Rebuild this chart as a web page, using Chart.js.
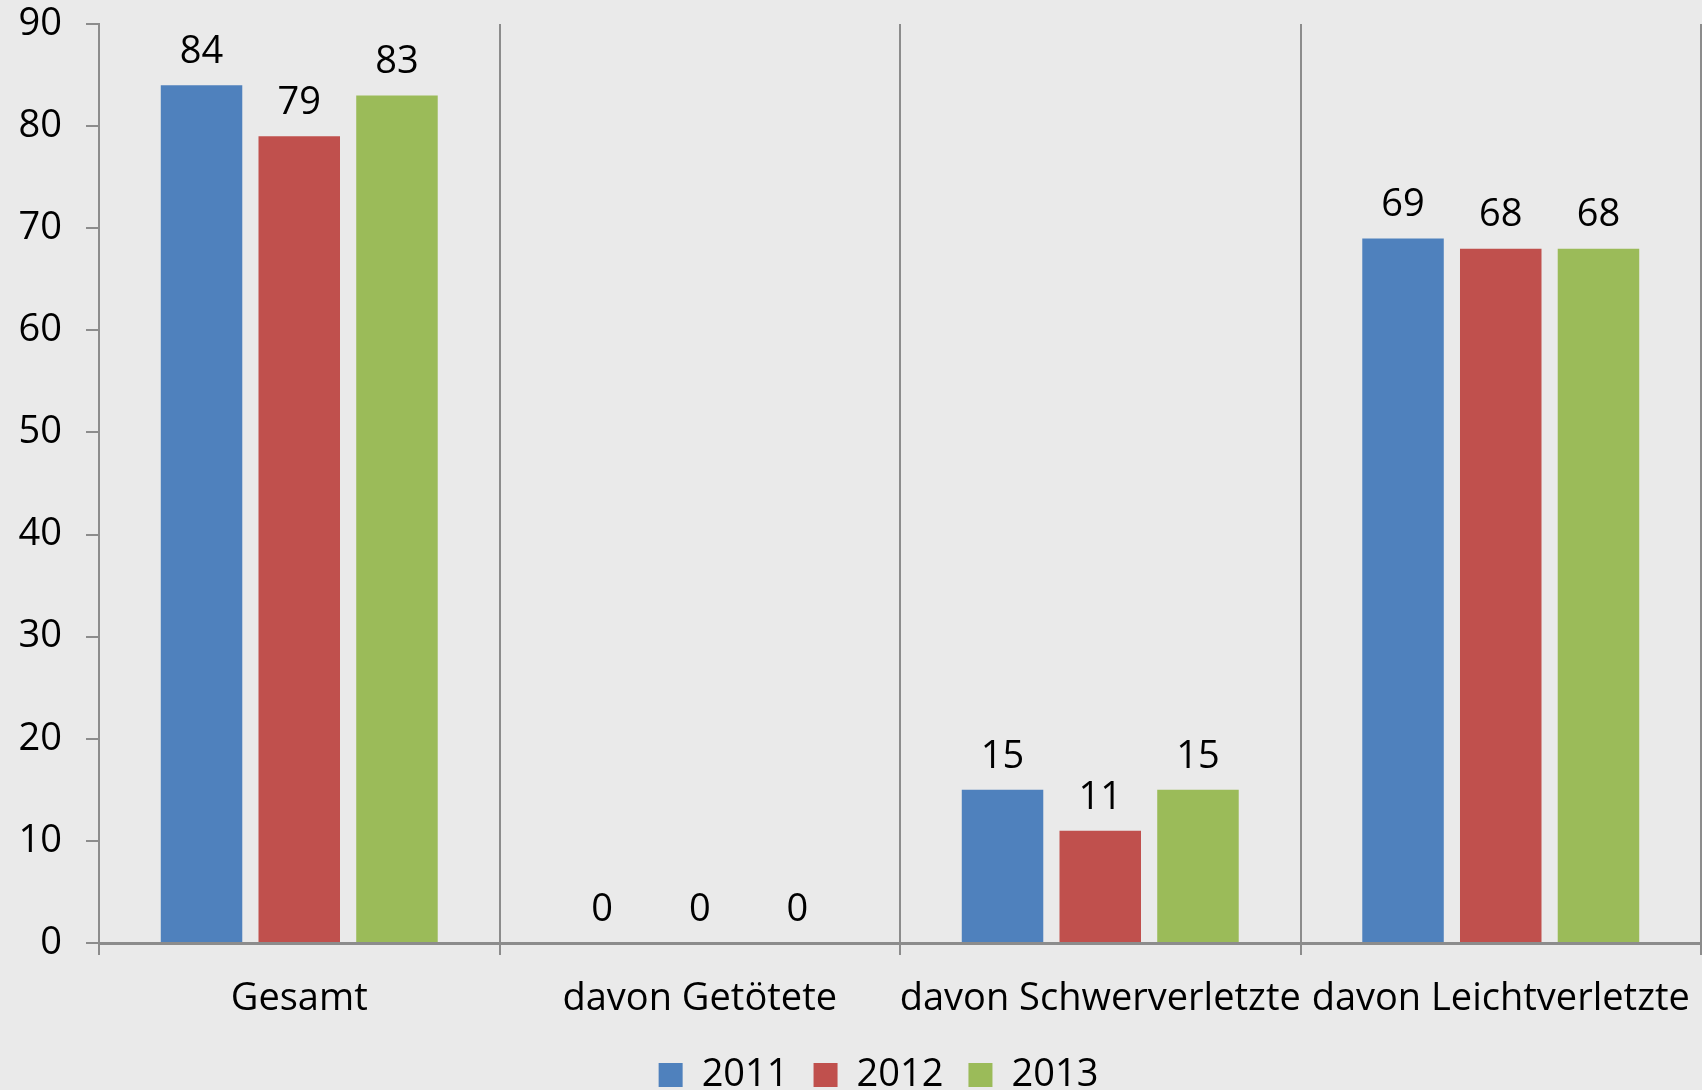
<!DOCTYPE html>
<html>
<head>
<meta charset="utf-8">
<script src="https://cdn.jsdelivr.net/npm/chart.js@4"></script>
<style>
  html, body { margin: 0; padding: 0; background: #eaeaea; }
  #wrap { width: 1702px; height: 1090px; }
</style>
</head>
<body>
<div id="wrap"><canvas id="chart" width="1702" height="1090"></canvas></div>
<script>
// data
const categories = ['Gesamt', 'davon Getötete', 'davon Schwerverletzte', 'davon Leichtverletzte'];
const years = ['2011', '2012', '2013'];
const values2011 = [84, 0, 15, 69];
const values2012 = [79, 0, 11, 68];
const values2013 = [83, 0, 15, 68];
const yTicks = [0, 10, 20, 30, 40, 50, 60, 70, 80, 90];

const colors = ['#4f81bd', '#c0504d', '#9bbb59'];
const font = { family: '"Open Sans", sans-serif', size: 38 };
const axisGray = '#8c8c8c';

// value labels above the bars
const valueLabels = {
    id: 'valueLabels',
    afterDatasetsDraw(chart) {
        const ctx = chart.ctx;
        ctx.save();
        ctx.font = font.size + 'px ' + font.family;
        ctx.fillStyle = '#000';
        ctx.textAlign = 'center';
        ctx.textBaseline = 'middle';
        chart.data.datasets.forEach((ds, i) => {
            chart.getDatasetMeta(i).data.forEach((bar, j) => {
                ctx.fillText(String(ds.data[j]), bar.x, bar.y - 33);
            });
        });
        ctx.restore();
    }
};

// legend sits a bit right of centre in the original
const legendShift = {
    id: 'legendShift',
    afterLayout(chart) {
        chart.legend.left += 28;
        chart.legend.right += 28;
    }
};

const ctx = document.getElementById('chart').getContext('2d');
new Chart(ctx, {
    type: 'bar',
    data: {
        labels: categories,
        datasets: [values2011, values2012, values2013].map((d, i) => ({
            label: years[i],
            data: d,
            backgroundColor: colors[i],
            categoryPercentage: 0.732,
            barPercentage: 0.834
        }))
    },
    plugins: [valueLabels, legendShift],
    options: {
        responsive: false,
        animation: false,
        layout: { padding: { top: 24, right: 1, left: 0, bottom: -14 } },
        plugins: {
            tooltip: { enabled: false },
            legend: {
                position: 'bottom',
                labels: {
                    font: font,
                    color: '#000',
                    boxWidth: 24,
                    boxHeight: 24,
                    padding: 25
                }
            }
        },
        scales: {
            x: {
                offset: true,
                afterFit(axis) {
                    axis.height = 88;
                    axis.paddingLeft = 0;
                    axis.paddingRight = 0;
                },
                grid: {
                    offset: true,
                    color: axisGray,
                    lineWidth: 2,
                    drawOnChartArea: true,
                    drawTicks: true,
                    tickLength: 12
                },
                border: { color: axisGray, width: 3 },
                ticks: { font: font, color: '#000', padding: 21, maxRotation: 0, autoSkip: false }
            },
            y: {
                min: 0,
                max: 90,
                afterBuildTicks(axis) {
                    axis.ticks = yTicks.map(v => ({ value: v }));
                },
                afterFit(axis) {
                    axis.width = 99;
                    axis.paddingTop = 0;
                    axis.paddingBottom = 0;
                },
                grid: {
                    drawOnChartArea: false,
                    drawTicks: true,
                    tickLength: 13,
                    color: axisGray,
                    lineWidth: 2
                },
                border: { color: axisGray, width: 2 },
                ticks: { font: font, color: '#000', padding: 24 }
            }
        }
    }
});
</script>
</body>
</html>
